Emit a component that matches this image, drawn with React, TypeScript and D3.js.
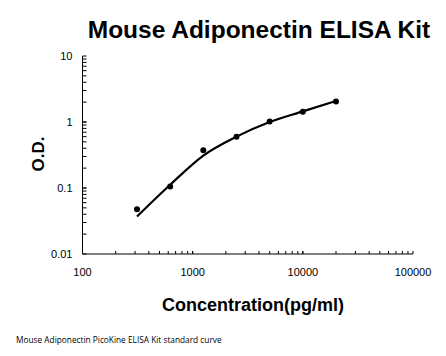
import React from "react";
import * as d3 from "d3";

const concentrations = [312.5, 625, 1250, 2500, 5000, 10000, 20000];
const odValues = [0.0475, 0.105, 0.372, 0.6, 1.02, 1.43, 2.05];
const fitValues = [0.037, 0.112, 0.31, 0.6, 1.0, 1.45, 2.08];
const xTicks = [100, 1000, 10000, 100000];
const yTicks = [0.01, 0.1, 1, 10];

const W = 446, H = 356;
const left = 82.5, right = 413, top = 56, bottom = 254;

export default function App() {
  const x = d3.scaleLog().domain([100, 100000]).range([left, right]);
  const y = d3.scaleLog().domain([0.01, 10]).range([bottom, top]);

  const xMinor: number[] = [];
  for (let d = 100; d < 100000; d *= 10) for (let k = 1; k <= 10; k++) xMinor.push(d * k);
  const yMinor: number[] = [];
  for (let d = 0.01; d < 10; d *= 10) for (let k = 1; k <= 10; k++) yMinor.push(+(d * k).toPrecision(6));

  const line = d3
    .line<number>()
    .x((_, i) => x(concentrations[i]))
    .y((d) => y(d))
    .curve(d3.curveMonotoneX);

  const font = "Arial, 'Liberation Sans', sans-serif";

  return (
    <svg width={W} height={H} style={{ position: "absolute", left: 0, top: 0, background: "#fff" }}>
      <rect width={W} height={H} fill="#fff" />
      <text x={259} y={38} textAnchor="middle" fontFamily={font} fontWeight="bold" fontSize={24.5}>
        Mouse Adiponectin ELISA Kit
      </text>
      {/* axes */}
      <line x1={left} x2={left} y1={top} y2={bottom} stroke="#000" strokeWidth={1} />
      <line x1={left} x2={right} y1={bottom} y2={bottom} stroke="#000" strokeWidth={1} />
      {yMinor.map((v, i) => (
        <line key={"ym" + i} x1={left} x2={left + 4} y1={y(v)} y2={y(v)} stroke="#000" strokeWidth={1} />
      ))}
      {xMinor.map((v, i) => (
        <line key={"xm" + i} x1={x(v)} x2={x(v)} y1={bottom} y2={bottom - 3} stroke="#000" strokeWidth={1} />
      ))}
      {yTicks.map((v) => (
        <text key={"yt" + v} x={left - 10} y={y(v) + 4} textAnchor="end" fontFamily={font} fontSize={11}>
          {String(v)}
        </text>
      ))}
      {xTicks.map((v) => (
        <text key={"xt" + v} x={x(v)} y={276} textAnchor="middle" fontFamily={font} fontSize={11}>
          {String(v)}
        </text>
      ))}
      <text x={253} y={311} textAnchor="middle" fontFamily={font} fontWeight="bold" fontSize={18}>
        Concentration(pg/ml)
      </text>
      <text
        transform={`translate(44,154) rotate(-90)`}
        textAnchor="middle"
        fontFamily={font}
        fontWeight="bold"
        fontSize={17}
      >
        O.D.
      </text>
      <path d={line(fitValues) || ""} fill="none" stroke="#000" strokeWidth={2.2} />
      {concentrations.map((c, i) => (
        <circle key={"p" + i} cx={x(c)} cy={y(odValues[i])} r={3} fill="#000" />
      ))}
      <text x={16} y={343} fontFamily="'Open Sans', 'DejaVu Sans', sans-serif" fontSize={8.3}>
        Mouse Adiponectin PicoKine ELISA Kit standard curve
      </text>
    </svg>
  );
}
